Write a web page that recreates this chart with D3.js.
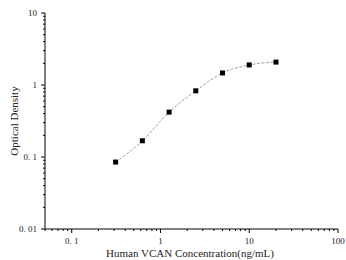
<!DOCTYPE html>
<html lang="en">
<head>
<meta charset="UTF-8">
<title>VCAN standard curve</title>
<script src="https://d3js.org/d3.v7.min.js"></script>
<style>
  body { margin: 0; background: #fff; }
  text { font-family: "Liberation Serif", "DejaVu Serif", serif; fill: #222; }
</style>
</head>
<body>
<script>
const concentration = [0.3125, 0.625, 1.25, 2.5, 5, 10, 20];
const od = [0.085, 0.168, 0.42, 0.83, 1.47, 1.9, 2.08];
const xTicks = [0.1, 1, 10, 100];
const xTickLabels = ["0. 1", "1", "10", "100"];
const yTicks = [0.01, 0.1, 1, 10];
const yTickLabels = ["0. 01", "0. 1", "1", "10"];

const width = 346, height = 260;
const margin = { top: 13, right: 8, bottom: 31, left: 45 };

const svg = d3.select("body").append("svg")
    .attr("width", width)
    .attr("height", height);

const x = d3.scaleLog().domain([0.05, 100]).range([margin.left, 338]);
const y = d3.scaleLog().domain([0.01, 10]).range([229, 13]);

// minor ticks for each decade
const xMinor = [];
[0.01, 0.1, 1, 10].forEach(d => { for (let k = 2; k <= 9; k++) { const v = d * k; if (v >= 0.05 && v < 100) xMinor.push(v); } });
const yMinor = [];
[0.01, 0.1, 1].forEach(d => { for (let k = 2; k <= 9; k++) yMinor.push(d * k); });

const xAxis = svg.append("g").attr("transform", `translate(0,229)`);
xAxis.append("line").attr("x1", margin.left).attr("x2", 338).attr("stroke", "#000");
xAxis.selectAll(".minor").data(xMinor).enter().append("line")
    .attr("x1", d => x(d)).attr("x2", d => x(d)).attr("y1", 0).attr("y2", 2).attr("stroke", "#000");
xAxis.selectAll(".major").data(xTicks).enter().append("line")
    .attr("x1", d => x(d)).attr("x2", d => x(d)).attr("y1", 0).attr("y2", 4).attr("stroke", "#000");
xAxis.selectAll(".lab").data(xTicks).enter().append("text")
    .attr("x", d => x(d)).attr("y", 15).attr("text-anchor", "middle")
    .attr("font-size", 9).attr("fill", "#444").text((d, i) => xTickLabels[i]);

const yAxis = svg.append("g").attr("transform", `translate(${margin.left},0)`);
yAxis.append("line").attr("y1", 229).attr("y2", 13).attr("stroke", "#000");
yAxis.selectAll(".minor").data(yMinor).enter().append("line")
    .attr("y1", d => y(d)).attr("y2", d => y(d)).attr("x1", 0).attr("x2", -2).attr("stroke", "#000");
yAxis.selectAll(".major").data(yTicks).enter().append("line")
    .attr("y1", d => y(d)).attr("y2", d => y(d)).attr("x1", 0).attr("x2", -4).attr("stroke", "#000");
yAxis.selectAll(".lab").data(yTicks).enter().append("text")
    .attr("x", -8).attr("y", d => y(d) + 3).attr("text-anchor", "end")
    .attr("font-size", 9).attr("fill", "#444").text((d, i) => yTickLabels[i]);

// fitted curve
const pts = concentration.map((c, i) => [c, od[i]]);
svg.append("path")
    .datum(pts)
    .attr("fill", "none")
    .attr("stroke", "#888")
    .attr("stroke-width", 0.8)
    .attr("stroke-dasharray", "3,1.5")
    .attr("d", d3.line().x(d => x(d[0])).y(d => y(d[1])).curve(d3.curveMonotoneX));

svg.selectAll(".pt").data(pts).enter().append("rect")
    .attr("x", d => x(d[0]) - 2.5).attr("y", d => y(d[1]) - 2.5)
    .attr("width", 5).attr("height", 5).attr("fill", "#000");

svg.append("text")
    .attr("x", 190).attr("y", 257).attr("text-anchor", "middle")
    .attr("font-size", 11).text("Human VCAN Concentration(ng/mL)");

svg.append("text")
    .attr("transform", "rotate(-90)")
    .attr("x", -121).attr("y", 18).attr("text-anchor", "middle")
    .attr("font-size", 11).text("Optical Density");
</script>
</body>
</html>
